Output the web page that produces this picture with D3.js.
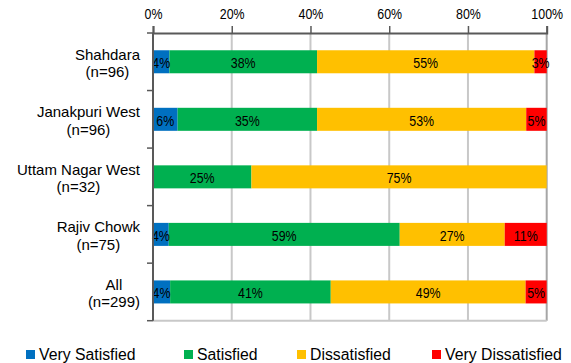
<!DOCTYPE html>
<html>
<head>
<meta charset="utf-8">
<script src="https://cdn.jsdelivr.net/npm/d3@7"></script>
<style>
  html, body { margin: 0; padding: 0; background: #fff; }
  svg { display: block; }
  .cat { font-family: "Liberation Sans", Arial, sans-serif; font-size: 15px; fill: #000; }
  .legend text { font-family: "Liberation Sans", Arial, sans-serif; font-size: 15.8px; fill: #000; }
  .tick-label, .val { font-family: "Liberation Sans", Arial, sans-serif; font-size: 15.5px; fill: #000; }
</style>
</head>
<body>
<svg id="chart" width="571" height="363"></svg>
<script>
// Stations surveyed, top to bottom, with sample sizes
const stations = ["Shahdara", "Janakpuri West", "Uttam Nagar West", "Rajiv Chowk", "All"];
const sampleSizes = [96, 96, 32, 75, 299];

// Satisfaction levels
const levels = ["Very Satisfied", "Satisfied", "Dissatisfied", "Very Dissatisfied"];
const levelColors = ["#0070C0", "#00B050", "#FFC000", "#FF0000"];

// Share of respondents (%) per level, one value per station
const verySatisfied    = [4.17, 6.25, 0, 4.00, 4.35];
const satisfied        = [37.50, 35.42, 25, 58.67, 40.80];
const dissatisfied     = [55.21, 53.13, 75, 26.67, 49.49];
const veryDissatisfied = [3.13, 5.21, 0, 10.67, 5.35];

// Axis ticks
const tickValues = [0, 20, 40, 60, 80, 100];

const seriesValues = [verySatisfied, satisfied, dissatisfied, veryDissatisfied];

const rows = stations.map((s, i) => {
  const r = { station: s, n: sampleSizes[i] };
  levels.forEach((l, j) => { r[l] = seriesValues[j][i]; });
  return r;
});

const svg = d3.select("#chart");
const plotLeft = 153, plotRight = 546.7, plotTop = 33, plotBottom = 320.7;
const narrow = 0.8; // horizontal squeeze for the condensed numeric labels

const x = d3.scaleLinear().domain([0, 100]).range([plotLeft, plotRight]);
const y = d3.scaleBand().domain(stations).range([plotTop, plotBottom])
  .paddingInner(0.6).paddingOuter(0.3);

// Vertical gridlines
svg.append("g").selectAll("line")
  .data(tickValues.filter(v => v > 0))
  .join("line")
  .attr("x1", d => x(d)).attr("x2", d => x(d))
  .attr("y1", plotTop).attr("y2", plotBottom)
  .attr("stroke", d => d === 100 ? "#a6a6a6" : "#c8c8c8")
  .attr("stroke-width", 2);

// Bottom border of plot area
svg.append("line")
  .attr("x1", plotLeft).attr("x2", plotRight)
  .attr("y1", plotBottom).attr("y2", plotBottom)
  .attr("stroke", "#c8c8c8").attr("stroke-width", 2);

// Stacked segments
const stack = d3.stack().keys(levels)(rows);
const segGroups = svg.append("g").selectAll("g")
  .data(stack).join("g")
  .attr("fill", (d, i) => levelColors[i]);

segGroups.selectAll("rect")
  .data(d => d.filter(s => s[1] - s[0] > 0))
  .join("rect")
  .attr("x", d => x(d[0]))
  .attr("width", d => x(d[1]) - x(d[0]))
  .attr("y", d => y(d.data.station))
  .attr("height", y.bandwidth());

// Value labels
const fmt = v => Math.round(v) + "%";
svg.append("g").selectAll("g")
  .data(stack).join("g")
  .selectAll("text")
  .data(d => d.filter(s => s[1] - s[0] > 0))
  .join("text")
  .attr("class", "val")
  .attr("text-anchor", "middle")
  .attr("transform", d => `translate(${(x(d[0]) + x(d[1])) / 2},${y(d.data.station) + y.bandwidth() / 2 + 6.5}) scale(${narrow},1)`)
  .text(d => fmt(d[1] - d[0]));

// Top axis
const xAxis = d3.axisTop(x).tickValues(tickValues)
  .tickFormat(d => d + "%").tickSize(7).tickPadding(6);
const gx = svg.append("g").attr("transform", `translate(0,${plotTop})`).call(xAxis);
gx.attr("font-family", null).attr("font-size", null);
gx.select(".domain").attr("stroke", "#595959").attr("stroke-width", 2);
gx.selectAll(".tick line").attr("stroke", "#595959").attr("stroke-width", 1.5);
gx.selectAll(".tick text").attr("class", "tick-label").attr("fill", null)
  .attr("y", null).attr("transform", `translate(0,-14) scale(${narrow},1)`);

// Left axis with ticks at category boundaries
const step = y.step();
const boundaries = d3.range(stations.length + 1).map(i => plotTop + i * step);
svg.append("line")
  .attr("x1", plotLeft).attr("x2", plotLeft)
  .attr("y1", plotTop).attr("y2", plotBottom)
  .attr("stroke", "#595959").attr("stroke-width", 2);
svg.append("g").selectAll("line")
  .data(boundaries).join("line")
  .attr("x1", plotLeft - 6).attr("x2", plotLeft)
  .attr("y1", d => d).attr("y2", d => d)
  .attr("stroke", "#595959").attr("stroke-width", 1.5);

// Category labels: two centred lines, block right-aligned near the axis
const catG = svg.append("g");
rows.forEach(r => {
  const cy = y(r.station) + y.bandwidth() / 2;
  const t = catG.append("text").attr("class", "cat").attr("text-anchor", "middle");
  const l1 = t.append("tspan").attr("y", cy - 2).text(r.station);
  const l2 = t.append("tspan").attr("y", cy + 15.5).text(`(n=${r.n})`);
  const w = Math.max(l1.node().getComputedTextLength(), l2.node().getComputedTextLength());
  const cx = 140 - w / 2;
  l1.attr("x", cx);
  l2.attr("x", cx);
});

// Legend
const legendX = [26, 184, 297, 432];
const lg = svg.append("g").attr("class", "legend").selectAll("g")
  .data(levels).join("g")
  .attr("transform", (d, i) => `translate(${legendX[i]},350)`);
lg.append("rect").attr("width", 9).attr("height", 9)
  .attr("fill", (d, i) => levelColors[i]);
lg.append("text").attr("x", 13).attr("y", 9.5).text(d => d);
</script>
</body>
</html>
